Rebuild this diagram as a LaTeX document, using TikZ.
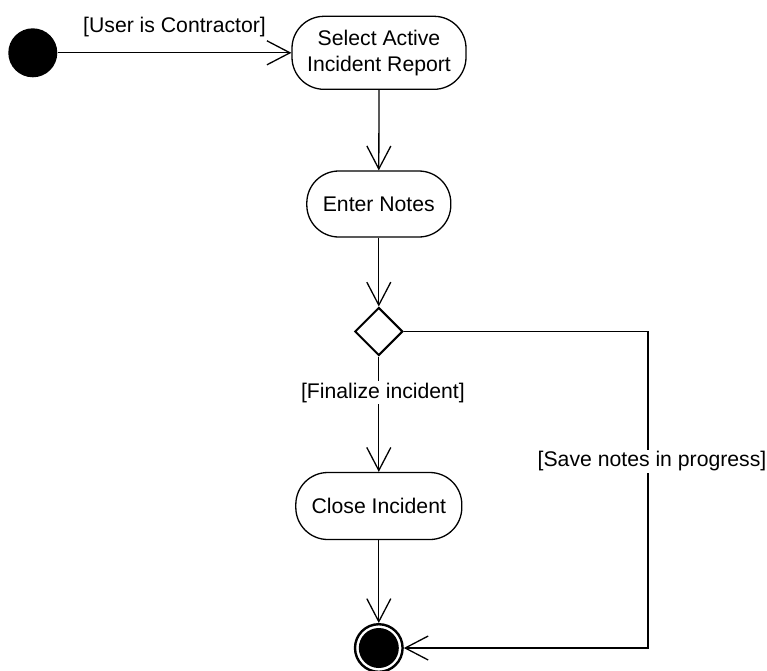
\documentclass[tikz,border=0pt]{standalone}
\usepackage{fontspec}
\setmainfont{Liberation Sans}
\usetikzlibrary{arrows.meta,shapes.geometric}

\begin{document}
\begin{tikzpicture}[x=1pt,y=-1pt,
  every node/.style={font=\fontsize{21.2}{26}\selectfont},
  action/.style={draw, line width=1.3pt, rounded corners=32pt, align=center, inner sep=0pt},
  startnode/.style={circle, fill=black, minimum size=49pt, inner sep=0pt},
  endnode/.style={circle, draw, line width=2.4pt, minimum size=47.6pt, inner sep=0pt},
  decision/.style={diamond, draw, line width=2pt, minimum size=48pt, inner sep=0pt, aspect=1},
  flow/.style={line width=1.3pt, -{Straight Barb[length=23pt,width=24pt,line width=1.3pt]}},
  guard/.style={fill=white, inner sep=1.5pt}
]
\useasboundingbox (0,0) rectangle (767,670);

% activity nodes
\node[startnode] (init) at (32.8,52.8) {};
\node[action, minimum width=174pt, minimum height=73pt] (select) at (379,52.8) {Select Active\\Incident Report};
\node[action, minimum width=144pt, minimum height=66pt] (enter) at (378.8,204) {Enter Notes};
\node[decision] (dec) at (378.8,331.5) {};
\node[action, minimum width=166pt, minimum height=67pt] (close) at (378.8,506) {Close Incident};
\node[endnode] (final) at (378.8,648) {};
\fill (final.center) circle (20);

% control flows
\draw[flow] (init) -- (select.west);
\node[anchor=base] (g1) at (174.5,32) {[User is Contractor]};
\draw[flow] (select.south) -- (enter.north);
\draw[flow] (enter.south) -- (dec.north);
\draw[flow] (dec.south) -- (close.north);
\node[guard, anchor=base] (g2) at (382.9,398) {[Finalize incident]};
\coordinate (bend) at (648,648);
\draw[flow] (dec.east) -| (bend) -- (final.east);
\node[guard, anchor=base] (g3) at (652,466.7) {[Save notes in progress]};
\draw[flow] (close.south) -- (final.north);
\end{tikzpicture}
\end{document}
